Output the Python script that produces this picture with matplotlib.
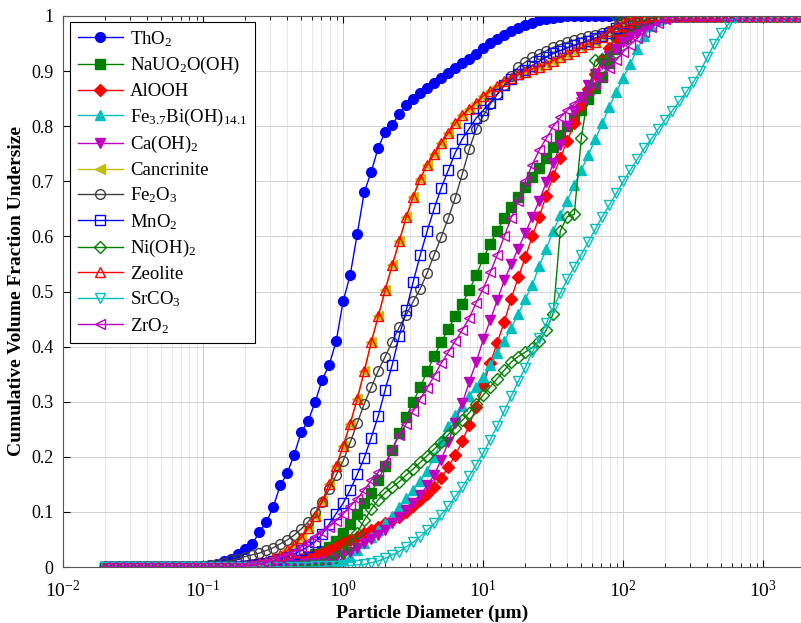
import matplotlib
matplotlib.use("Agg")
import matplotlib.pyplot as plt
from matplotlib.ticker import LogLocator, LogFormatterMathtext, FixedLocator, NullFormatter

plt.rcParams['font.family'] = ['Liberation Serif', 'DejaVu Serif']
plt.rcParams['mathtext.fontset'] = 'custom'
plt.rcParams['mathtext.rm'] = 'Liberation Serif'
plt.rcParams['mathtext.it'] = 'Liberation Serif:italic'
plt.rcParams['mathtext.bf'] = 'Liberation Serif:bold'

# particle size bins (um)
diameter = [0.020, 0.0224, 0.0252, 0.0283, 0.0317, 0.0356, 0.0399, 0.0448, 0.0502, 0.0564,
            0.0632, 0.0710, 0.0796, 0.0893, 0.1002, 0.1125, 0.1262, 0.1416, 0.1589, 0.1783,
            0.200, 0.2244, 0.2518, 0.2825, 0.3170, 0.3557, 0.3991, 0.4477, 0.5024, 0.5637,
            0.6325, 0.7096, 0.7962, 0.8934, 1.0024, 1.1247, 1.2619, 1.4159, 1.5887, 1.7825,
            2.000, 2.2440, 2.5179, 2.8251, 3.1698, 3.5566, 3.9905, 4.4774, 5.0238, 5.6368,
            6.3246, 7.0963, 7.9621, 8.9337, 10.0237, 11.2468, 12.6191, 14.1589, 15.8866, 17.8250,
            20.000, 22.4404, 25.1785, 28.2508, 31.6979, 35.5656, 39.9052, 44.7744, 50.2377, 56.3677,
            63.2456, 70.9627, 79.6214, 89.3367, 100.2374, 112.4683, 126.1915, 141.5892, 158.8656, 178.2502,
            200.000, 224.4037, 251.7851, 282.5075, 316.9786, 355.6559, 399.0525, 447.7442, 502.3773, 563.6766,
            632.4555, 709.6268, 796.2143, 893.3672, 1002.3745, 1124.6827, 1261.9147, 1415.8916, 1588.6564, 1778.2794,
            2000.0]

tho2 = [0.0] * 15 + [
    0.003, 0.006, 0.010, 0.015, 0.024, 0.033, 0.041, 0.063, 0.081, 0.109,
    0.148, 0.170, 0.204, 0.245, 0.265, 0.300, 0.340, 0.367, 0.410, 0.483,
    0.530, 0.604, 0.680, 0.717, 0.761, 0.790, 0.802, 0.823, 0.838, 0.850,
    0.860, 0.870, 0.879, 0.888, 0.897, 0.906, 0.914, 0.922, 0.931, 0.942,
    0.951, 0.958, 0.966, 0.973, 0.979, 0.984, 0.988, 0.992, 0.995, 0.997,
    0.999] + [1.0] * 35

nauo2 = [0.0] * 20 + [
    0.001, 0.001, 0.002, 0.002, 0.003, 0.004, 0.005, 0.008, 0.012, 0.017,
    0.023, 0.029, 0.037, 0.048, 0.062, 0.078, 0.096, 0.116, 0.135, 0.158,
    0.184, 0.213, 0.243, 0.272, 0.300, 0.327, 0.355, 0.383, 0.408, 0.432,
    0.455, 0.478, 0.502, 0.530, 0.560, 0.587, 0.610, 0.633, 0.653, 0.672,
    0.690, 0.707, 0.725, 0.743, 0.762, 0.784, 0.800, 0.815, 0.830, 0.850,
    0.870, 0.890, 0.915, 0.940, 0.960, 0.978, 0.990, 0.997] + [1.0] * 23

alooh = [0.0] * 20 + [
    0.002, 0.003, 0.004, 0.005, 0.006, 0.008, 0.010, 0.012, 0.015, 0.018,
    0.022, 0.026, 0.031, 0.037, 0.043, 0.049, 0.055, 0.061, 0.067, 0.073,
    0.079, 0.085, 0.091, 0.100, 0.110, 0.121, 0.133, 0.146, 0.161, 0.182,
    0.203, 0.228, 0.258, 0.290, 0.330, 0.370, 0.407, 0.445, 0.487, 0.526,
    0.562, 0.600, 0.636, 0.674, 0.710, 0.742, 0.774, 0.805, 0.838, 0.868,
    0.895, 0.920, 0.942, 0.960, 0.975, 0.987, 0.995] + [1.0] * 24

febi = [0.0] * 30 + [
    0.003, 0.004, 0.005, 0.007, 0.012, 0.019, 0.030, 0.043, 0.055, 0.067,
    0.080, 0.092, 0.108, 0.125, 0.140, 0.156, 0.175, 0.200, 0.228, 0.255,
    0.275, 0.293, 0.310, 0.327, 0.345, 0.366, 0.388, 0.410, 0.434, 0.459,
    0.486, 0.512, 0.546, 0.578, 0.610, 0.638, 0.665, 0.693, 0.720, 0.748,
    0.776, 0.805, 0.835, 0.862, 0.888, 0.913, 0.940, 0.963, 0.982, 0.993,
    0.998] + [1.0] * 20

caoh2 = [0.0] * 20 + [
    0.001, 0.001, 0.002, 0.002, 0.003, 0.003, 0.004, 0.005, 0.006, 0.007,
    0.008, 0.009, 0.011, 0.016, 0.022, 0.028, 0.034, 0.043, 0.050, 0.058,
    0.067, 0.079, 0.091, 0.104, 0.116, 0.131, 0.148, 0.167, 0.195, 0.226,
    0.262, 0.297, 0.336, 0.372, 0.413, 0.448, 0.484, 0.520, 0.550, 0.578,
    0.606, 0.635, 0.665, 0.698, 0.733, 0.766, 0.800, 0.827, 0.853, 0.875,
    0.895, 0.912, 0.928, 0.940, 0.952, 0.962, 0.970, 0.978, 0.985, 0.991,
    0.995, 0.998] + [1.0] * 19

zeolite = [0.0] * 19 + [
    0.001, 0.002, 0.004, 0.007, 0.011, 0.016, 0.022, 0.030, 0.040, 0.053,
    0.070, 0.092, 0.120, 0.150, 0.183, 0.220, 0.260, 0.305, 0.355, 0.408,
    0.455, 0.503, 0.548, 0.591, 0.635, 0.672, 0.705, 0.730, 0.750, 0.770,
    0.788, 0.805, 0.820, 0.832, 0.843, 0.855, 0.864, 0.873, 0.882, 0.888,
    0.894, 0.899, 0.904, 0.908, 0.913, 0.919, 0.925, 0.931, 0.937, 0.943,
    0.949, 0.953, 0.962, 0.972, 0.981, 0.989, 0.995, 0.998, 0.999] + [1.0] * 23

# cancrinite lies under the zeolite curve in the figure
cancrinite = list(zeolite)

fe2o3 = [0.0] * 14 + [
    0.001, 0.003, 0.005, 0.008, 0.012, 0.015, 0.019, 0.022, 0.025, 0.030,
    0.035, 0.042, 0.049, 0.058, 0.069, 0.082, 0.099, 0.118, 0.141, 0.167,
    0.193, 0.226, 0.261, 0.296, 0.326, 0.356, 0.382, 0.409, 0.435, 0.458,
    0.482, 0.505, 0.534, 0.567, 0.599, 0.633, 0.670, 0.713, 0.758, 0.795,
    0.819, 0.840, 0.858, 0.875, 0.891, 0.907, 0.916, 0.925, 0.931, 0.937,
    0.943, 0.948, 0.952, 0.956, 0.960, 0.963, 0.966, 0.970, 0.973, 0.976,
    0.979, 0.983, 0.987, 0.992, 0.996, 0.999] + [1.0] * 21

mno2 = [0.0] * 19 + [
    0.001, 0.002, 0.004, 0.006, 0.008, 0.011, 0.015, 0.019, 0.024, 0.030,
    0.037, 0.046, 0.059, 0.078, 0.097, 0.116, 0.140, 0.168, 0.198, 0.235,
    0.274, 0.322, 0.367, 0.419, 0.466, 0.518, 0.566, 0.610, 0.651, 0.688,
    0.720, 0.752, 0.777, 0.796, 0.815, 0.829, 0.843, 0.858, 0.874, 0.885,
    0.894, 0.902, 0.910, 0.918, 0.925, 0.932, 0.937, 0.942, 0.947, 0.951,
    0.955, 0.960, 0.964, 0.970, 0.979, 0.988, 0.995] + [1.0] * 25

nioh2 = [0.0] * 28 + [
    0.002, 0.003, 0.004, 0.006, 0.010, 0.018, 0.028, 0.042, 0.062, 0.085,
    0.105, 0.122, 0.135, 0.145, 0.155, 0.167, 0.178, 0.190, 0.202, 0.214,
    0.227, 0.240, 0.253, 0.266, 0.280, 0.296, 0.312, 0.327, 0.342, 0.357,
    0.372, 0.382, 0.390, 0.398, 0.410, 0.430, 0.460, 0.610, 0.636, 0.640,
    0.778, 0.860, 0.920, 0.922, 0.924] + [1.0] * 28

srco3 = [0.0] * 30 + [
    0.001, 0.001, 0.002, 0.002, 0.003, 0.003, 0.004, 0.005, 0.008, 0.011,
    0.016, 0.022, 0.028, 0.037, 0.045, 0.055, 0.067, 0.079, 0.095, 0.110,
    0.128, 0.145, 0.165, 0.186, 0.207, 0.231, 0.256, 0.283, 0.310, 0.337,
    0.362, 0.390, 0.416, 0.442, 0.470, 0.497, 0.522, 0.545, 0.567, 0.590,
    0.613, 0.636, 0.657, 0.678, 0.700, 0.720, 0.740, 0.760, 0.777, 0.795,
    0.812, 0.828, 0.845, 0.862, 0.880, 0.900, 0.925, 0.950, 0.970, 0.985,
    0.996] + [1.0] * 10

zro2 = [0.0] * 20 + [
    0.002, 0.003, 0.005, 0.008, 0.012, 0.017, 0.022, 0.028, 0.036, 0.045,
    0.055, 0.064, 0.073, 0.084, 0.096, 0.110, 0.124, 0.140, 0.157, 0.172,
    0.188, 0.213, 0.240, 0.260, 0.283, 0.305, 0.325, 0.347, 0.370, 0.390,
    0.410, 0.430, 0.452, 0.480, 0.505, 0.535, 0.566, 0.600, 0.634, 0.665,
    0.700, 0.730, 0.757, 0.778, 0.800, 0.816, 0.829, 0.840, 0.851, 0.863,
    0.876, 0.890, 0.905, 0.920, 0.935, 0.948, 0.960, 0.971, 0.980, 0.988,
    0.994, 0.998] + [1.0] * 19

series = [
    ('ThO$_2$', tho2, 'o', (0, 0, 1), True),
    ('NaUO$_2$O(OH)', nauo2, 's', (0, 0.5, 0), True),
    ('AlOOH', alooh, 'D', (1, 0, 0), True),
    ('Fe$_{3.7}$Bi(OH)$_{14.1}$', febi, '^', (0, 0.75, 0.75), True),
    ('Ca(OH)$_2$', caoh2, 'v', (0.75, 0, 0.75), True),
    ('Cancrinite', cancrinite, '<', (0.75, 0.75, 0), True),
    ('Fe$_2$O$_3$', fe2o3, 'o', (0.25, 0.25, 0.25), False),
    ('MnO$_2$', mno2, 's', (0, 0, 1), False),
    ('Ni(OH)$_2$', nioh2, 'D', (0, 0.5, 0), False),
    ('Zeolite', zeolite, '^', (1, 0, 0), False),
    ('SrCO$_3$', srco3, 'v', (0, 0.75, 0.75), False),
    ('ZrO$_2$', zro2, '<', (0.75, 0, 0.75), False),
]

fig = plt.figure(figsize=(8.01, 6.23), dpi=100)
ax = fig.add_axes([63 / 801, 56 / 623, 738 / 801, 551 / 623])

for label, vals, mk, col, filled in series:
    ms = 6 if mk == 'D' else 7
    ax.plot(diameter, vals, marker=mk, color=col, linewidth=1.0, markersize=ms,
            markerfacecolor=col if filled else 'none', markeredgecolor=col,
            markeredgewidth=1.0, label=label)

ax.set_xscale('log')
ax.set_xlim(1e-2, 10 ** 3.27)
ax.set_ylim(0, 1)
ax.xaxis.set_major_locator(LogLocator(base=10, numticks=10))
ax.xaxis.set_major_formatter(LogFormatterMathtext())
ax.xaxis.set_minor_locator(LogLocator(base=10, subs=range(2, 10), numticks=20))
ax.xaxis.set_minor_formatter(NullFormatter())
ax.yaxis.set_major_locator(FixedLocator([i / 10 for i in range(11)]))
ax.set_yticklabels(['0', '0.1', '0.2', '0.3', '0.4', '0.5', '0.6', '0.7', '0.8', '0.9', '1'])

ax.grid(True, which='major', color='#d0d0d0', linewidth=0.7)
ax.grid(True, which='minor', color='#e4e4e4', linewidth=0.6)
ax.set_axisbelow(True)
ax.tick_params(which='both', direction='in', top=True, right=False, labelsize=13)
ax.tick_params(which='major', length=5)
ax.tick_params(which='minor', length=3)
ax.tick_params(axis='x', which='major', pad=9, labelsize=14)
ax.tick_params(axis='y', which='major', pad=7)
ax.spines['right'].set_visible(False)
for s in ['left', 'top', 'bottom']:
    ax.spines[s].set_color('#555555')

ax.set_xlabel('Particle Diameter (\u03bcm)', fontsize=14, fontweight='bold', labelpad=3)
ax.set_ylabel('Cumulative Volume Fraction Undersize', fontsize=14, fontweight='bold', labelpad=4)

leg = ax.legend(loc='upper left', bbox_to_anchor=(0.0095, 0.99), borderaxespad=0,
                fontsize=13.5, handlelength=2.4, labelspacing=0.35, frameon=True,
                fancybox=False, edgecolor='black', framealpha=1, borderpad=0.4,
                handletextpad=0.4)
leg.get_frame().set_linewidth(0.8)

fig.savefig('out.png', dpi=100)
